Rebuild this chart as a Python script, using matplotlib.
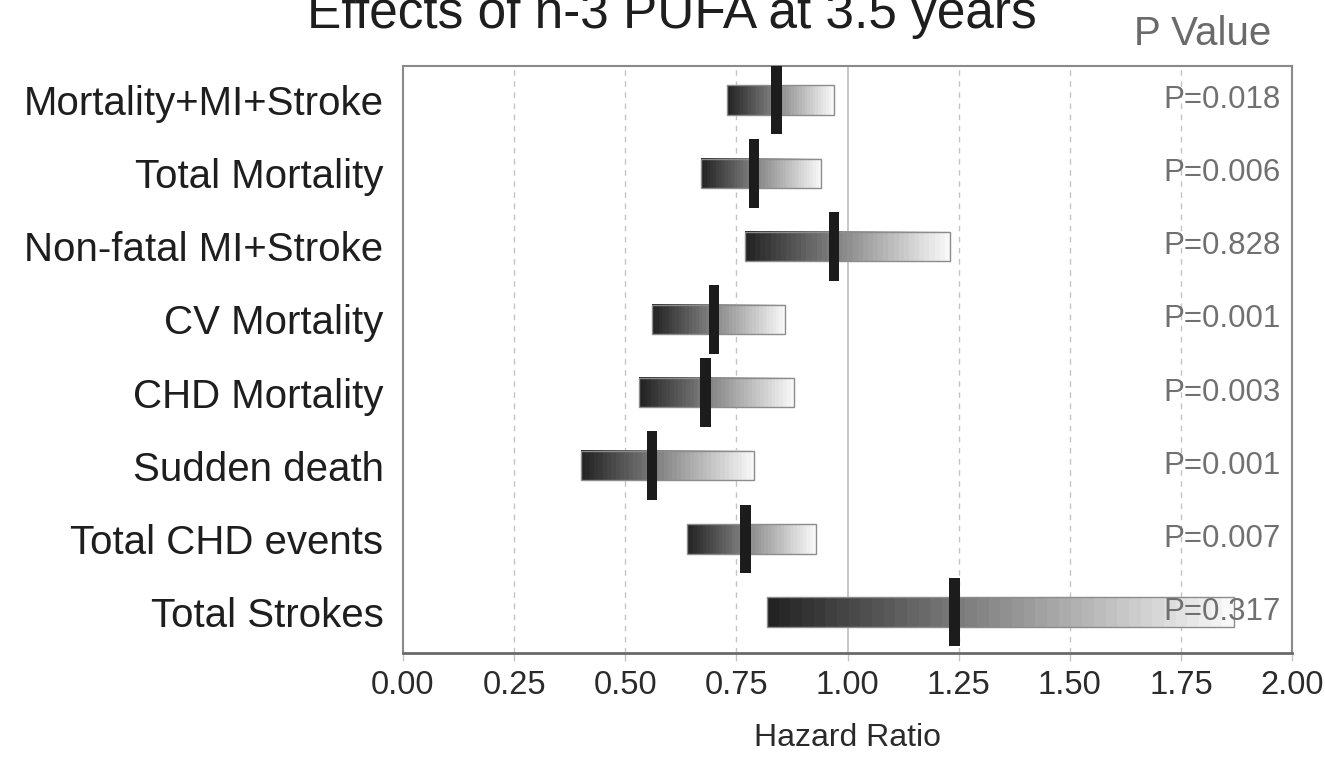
import numpy as np
import matplotlib
matplotlib.use("Agg")
import matplotlib.pyplot as plt
from matplotlib.patches import Rectangle

plt.rcParams['font.family'] = ['Liberation Sans', 'DejaVu Sans']

# Outcomes of n-3 PUFA treatment (hazard ratio with 95% CI)
outcomes = ["Mortality+MI+Stroke", "Total Mortality", "Non-fatal MI+Stroke",
            "CV Mortality", "CHD Mortality", "Sudden death",
            "Total CHD events", "Total Strokes"]
hazard_ratio = [0.84, 0.79, 0.97, 0.70, 0.68, 0.56, 0.77, 1.24]
ci_low = [0.73, 0.67, 0.77, 0.56, 0.53, 0.40, 0.64, 0.82]
ci_high = [0.97, 0.94, 1.23, 0.86, 0.88, 0.79, 0.93, 1.87]
p_values = ["P=0.018", "P=0.006", "P=0.828", "P=0.001",
            "P=0.003", "P=0.001", "P=0.007", "P=0.317"]
x_ticks = [0.00, 0.25, 0.50, 0.75, 1.00, 1.25, 1.50, 1.75, 2.00]
x_ticklabels = ["0.00", "0.25", "0.50", "0.75", "1.00", "1.25", "1.50", "1.75", "2.00"]

W, H = 1325, 759
fig = plt.figure(figsize=(W / 100, H / 100), dpi=100)
fig.patch.set_facecolor("white")
ax = fig.add_axes([403 / W, 1 - 653 / H, (1292 - 403) / W, (653 - 66) / H])

bar_h = 0.40
mark_h = 0.94
mark_w = 0.024

# stepped grey ramp used to shade each interval bar, dark on the left
ramp = np.linspace(0.14, 0.97, 40)[np.newaxis, :]

for i, (lo, hi, hr) in enumerate(zip(ci_low, ci_high, hazard_ratio)):
    ax.imshow(ramp, extent=[lo, hi, i + bar_h / 2, i - bar_h / 2],
              cmap="gray", vmin=0, vmax=1, aspect="auto",
              interpolation="nearest", zorder=2)
    ax.add_patch(Rectangle((lo, i - bar_h / 2), hi - lo, bar_h,
                           facecolor="none", edgecolor="#8c8c8c",
                           linewidth=1.0, zorder=3))
    ax.add_patch(Rectangle((hr - mark_w / 2, i - mark_h / 2), mark_w, mark_h,
                           facecolor="#1c1c1c", edgecolor="none", zorder=4))
    ax.text(0.855, i, p_values[i], transform=ax.get_yaxis_transform(),
            ha="left", va="center", fontsize=22.5, color="#707070", zorder=5)

# reference grid: dashed quarters, solid line of no effect
for xv in x_ticks[1:-1]:
    if xv == 1.0:
        ax.axvline(xv, color="#c4c4c4", linewidth=1.3, zorder=1)
    else:
        ax.axvline(xv, color="#c4c4c4", linewidth=1.0,
                   linestyle=(0, (4, 4)), zorder=1)

ax.set_xlim(0, 2)
ax.set_ylim(len(outcomes) - 1 + 0.56, -0.465)

ax.set_xticks(x_ticks)
ax.set_xticklabels(x_ticklabels, fontsize=23.5, color="#2a2a2a")
ax.tick_params(axis="x", length=6, width=1, color="#c4c4c4", pad=6)

ax.set_yticks(range(len(outcomes)))
ax.set_yticklabels(outcomes, fontsize=29, color="#1e1e1e")
ax.tick_params(axis="y", length=0, pad=14)

for side in ["left", "right", "top"]:
    ax.spines[side].set_color("#8a8a8a")
    ax.spines[side].set_linewidth(1.5)
ax.spines["bottom"].set_color("#6a6a6a")
ax.spines["bottom"].set_linewidth(2.0)

ax.set_xlabel("Hazard Ratio", fontsize=23, color="#2a2a2a", labelpad=16)

fig.text(672 / W, 1 - 28 / H, "Effects of n-3 PUFA at 3.5 years",
         ha="center", va="baseline", fontsize=37, color="#1e1e1e")
fig.text(1203 / W, 1 - 45 / H, "P Value", ha="center", va="baseline",
         fontsize=29, color="#6a6a6a")

fig.savefig("out.png", dpi=100, facecolor="white")
